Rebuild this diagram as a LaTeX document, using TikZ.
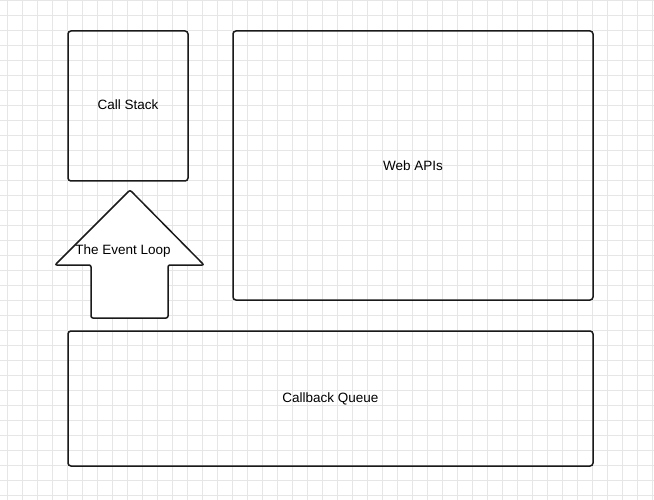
\documentclass[tikz,border=0pt]{standalone}
\usepackage{fontspec}
\setmainfont{Liberation Sans}
\usetikzlibrary{positioning}
\definecolor{gridgray}{HTML}{E6E6E6}
\definecolor{ink}{HTML}{1A1A1A}
\newcommand{\panel}[5]{\node[panel,minimum width=#2,minimum height=#3] (#1) at #4 {#5};}

\begin{document}
\begin{tikzpicture}[x=1pt,y=-1pt,
  panel/.style={draw=ink,line width=1.5pt,rounded corners=3pt,inner sep=0pt,font=\fontsize{13.5}{16}\selectfont},
  gridline/.style={gridgray,line width=0.8pt}]
  \useasboundingbox (0,0) rectangle (654,500);
  \fill[white] (0,0) rectangle (654,500);
  \foreach \x in {0,...,43} \draw[gridline] (7.3+15*\x,0) -- (7.3+15*\x,500);
  \foreach \y in {0,...,33} \draw[gridline] (0,0.7+15*\y) -- (654,0.7+15*\y);
  \panel{stack}{120pt}{150pt}{(128,106)}{\raisebox{2pt}{Call Stack}}
  \panel{apis}{360pt}{269pt}{(413,165.5)}{Web APIs}
  \panel{queue}{525pt}{135pt}{(330.5,398.5)}{Callback Queue}
  % the event loop arrow
  \draw[draw=ink,fill=white,line width=1.5pt,rounded corners=2pt]
    (130,190) -- (204,265) -- (168,265) -- (168,318) -- (91,318) -- (91,265) -- (55,265) -- cycle;
  \node[font=\fontsize{13.5}{16}\selectfont] (loop) at (123,251.5) {The Event Loop};
\end{tikzpicture}
\end{document}
